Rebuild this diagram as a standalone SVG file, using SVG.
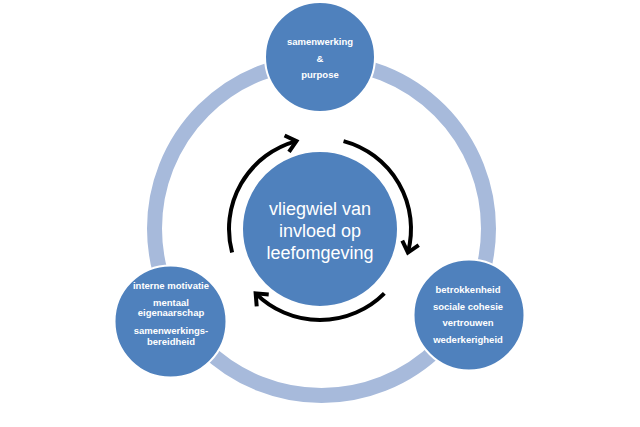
<svg xmlns="http://www.w3.org/2000/svg" width="640" height="427" viewBox="0 0 640 427">
<style>
.node{fill:#4F81BD;stroke:#FFFFFF;stroke-width:2}
.small{font-family:"Liberation Sans",Arial,sans-serif;font-weight:bold;font-size:9.5px;fill:#FFFFFF;text-anchor:middle}
.big{font-family:"Liberation Sans",Arial,sans-serif;font-size:18px;fill:#FFFFFF;text-anchor:middle}
.arc{fill:none;stroke:#000000;stroke-width:4}
</style>
<defs>
<marker id="head" markerUnits="userSpaceOnUse" orient="auto" markerWidth="30" markerHeight="30" refX="0" refY="0" viewBox="-15 -15 30 30" overflow="visible">
<path d="M -10 -8.5 L 0 0 L -10 8.5" fill="none" stroke="#000000" stroke-width="4" stroke-linejoin="miter"/>
</marker>
</defs>
<rect width="640" height="427" fill="#FFFFFF"/>
<g id="ring">
<circle cx="321.5" cy="228.5" r="167" fill="none" stroke="#A7BADB" stroke-width="15"/>
</g>
<g id="connectors">
<path class="arc" d="M 232.10 252.55 A 91 91 0 0 1 296.45 141.10" marker-end="url(#head)"/>
<path class="arc" d="M 343.55 141.10 A 91 91 0 0 1 407.90 252.55" marker-end="url(#head)"/>
<path class="arc" d="M 384.35 293.35 A 91 91 0 0 1 255.65 293.35" marker-end="url(#head)"/>
</g>
<g id="center">
<circle class="node" cx="320" cy="229" r="78"/>
<text class="big" x="320" y="215">vliegwiel van</text>
<text class="big" x="320" y="237">invloed op</text>
<text class="big" x="320" y="259">leefomgeving</text>
</g>
<g id="top">
<circle class="node" cx="320" cy="57" r="55"/>
<text class="small" x="320" y="45">samenwerking</text>
<text class="small" x="320" y="62">&amp;</text>
<text class="small" x="320" y="78">purpose</text>
</g>
<g id="left">
<circle class="node" cx="170.5" cy="321.5" r="56"/>
<text class="small" x="171" y="289">interne motivatie</text>
<text class="small" x="171" y="306">mentaal</text>
<text class="small" x="171" y="316">eigenaarschap</text>
<text class="small" x="171" y="334">samenwerkings-</text>
<text class="small" x="171" y="345">bereidheid</text>
</g>
<g id="right">
<circle class="node" cx="469" cy="315" r="55.5"/>
<text class="small" x="468" y="293">betrokkenheid</text>
<text class="small" x="468" y="310">sociale cohesie</text>
<text class="small" x="468" y="326">vertrouwen</text>
<text class="small" x="468" y="343">wederkerigheid</text>
</g>
</svg>
